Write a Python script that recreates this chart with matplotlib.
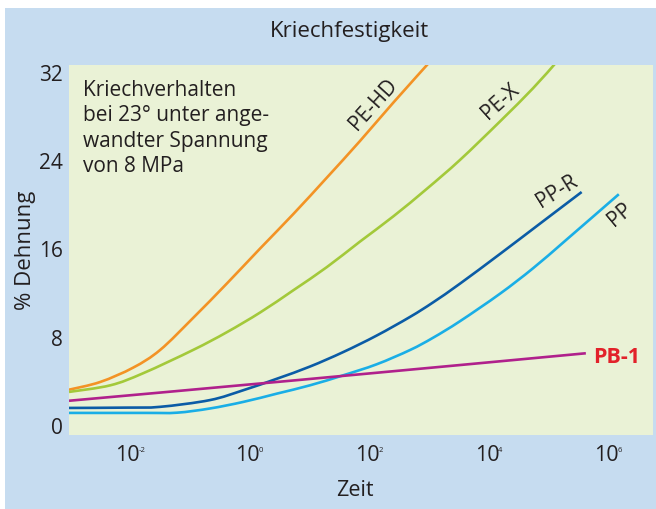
import numpy as np
import matplotlib
matplotlib.use("Agg")
from matplotlib import pyplot as plt
from matplotlib.patches import Rectangle, PathPatch
from matplotlib.path import Path
from matplotlib.ticker import NullLocator

plt.rcParams['font.family'] = ['Open Sans', 'DejaVu Sans']

# Zeit als Zehnerpotenz (Exponent), Dehnung in %
pehd_logt = [-2.97, -2.45, -1.9, -1.45, -0.9, -0.34, 0.22, 0.77, 1.33, 1.88, 2.44, 3.1]
pehd_val = [3.3, 4.0, 5.3, 6.9, 9.8, 12.9, 16.1, 19.2, 22.5, 25.8, 29.3, 33.3]

pex_logt = [-2.97, -2.28, -1.73, -0.9, -0.34, 0.22, 0.77, 1.33, 1.88, 2.44, 3.0, 3.55, 4.22, 4.77, 5.15]
pex_val = [3.1, 3.7, 4.8, 6.9, 8.5, 10.3, 12.3, 14.4, 16.7, 19.0, 21.5, 24.1, 27.6, 30.6, 32.9]

ppr_logt = [-2.97, -2.0, -1.45, -0.62, -0.06, 0.5, 1.05, 1.6, 2.16, 2.72, 3.1, 3.55, 4.22, 4.9, 5.58]
ppr_val = [1.65, 1.68, 1.75, 2.36, 3.26, 4.3, 5.4, 6.7, 8.2, 9.9, 11.2, 12.9, 15.6, 18.4, 21.2]

pp_logt = [-2.97, -1.7, -1.17, -0.62, -0.06, 0.5, 1.05, 1.6, 2.16, 2.72, 3.1, 3.55, 4.22, 4.77, 5.33, 6.2]
pp_val = [1.2, 1.2, 1.22, 1.6, 2.2, 2.95, 3.7, 4.6, 5.6, 6.9, 8.0, 9.5, 12.0, 14.3, 16.9, 21.0]

pb1_logt = [-2.97, 0.9, 5.65]
pb1_val = [2.3, 4.2, 6.6]

y_ticks = [0, 8, 16, 24, 32]
x_exps = [-2, 0, 2, 4, 6]

blue_bg = "#C6DCF0"
green_bg = "#EAF2D6"
txt = "#231F20"


def smooth_path(lt, v):
    p = np.column_stack([lt, v]).astype(float)
    pe = np.vstack([p[0], p, p[-1]])
    verts = [p[0]]
    codes = [Path.MOVETO]
    for i in range(len(p) - 1):
        p0, p1, p2, p3 = pe[i], pe[i + 1], pe[i + 2], pe[i + 3]
        verts += [p1 + (p2 - p0) / 6, p2 - (p3 - p1) / 6, p2]
        codes += [Path.CURVE4] * 3
    verts = np.array(verts)
    verts[:, 0] = 10.0 ** verts[:, 0]
    return Path(verts, codes)


fig = plt.figure(figsize=(6.56, 5.09), dpi=100)
fig.patch.set_facecolor("white")
fig.patches.append(Rectangle((5 / 656, 0), 1, 501 / 509, transform=fig.transFigure,
                             facecolor=blue_bg, edgecolor="none", zorder=-10))

ax = fig.add_axes([69 / 656, 1 - 435 / 509, 584 / 656, 370 / 509])
ax.set_facecolor(green_bg)
for s in ax.spines.values():
    s.set_visible(False)

ax.set_xscale("log")
ax.set_xlim(10 ** -2.97, 10 ** 6.77)
ax.set_ylim(-0.8, 32.7)

series = [
    (pehd_logt, pehd_val, "#F39325"),
    (pex_logt, pex_val, "#A3C93A"),
    (ppr_logt, ppr_val, "#0B5CA6"),
    (pp_logt, pp_val, "#1AAEE6"),
    (pb1_logt, pb1_val, "#B0218C"),
]
for lt, v, c in series:
    ax.add_patch(PathPatch(smooth_path(lt, v), facecolor="none", edgecolor=c,
                           lw=1.9, capstyle="butt"))

ax.set_yticks(y_ticks)
ax.set_yticklabels([str(t) for t in y_ticks])
ax.set_xticks([10.0 ** e for e in x_exps])
ax.set_xticklabels(["10"] * len(x_exps))
ax.xaxis.set_minor_locator(NullLocator())
ax.tick_params(axis="y", length=0, pad=4.3, labelsize=15, labelcolor=txt)
ax.tick_params(axis="x", length=0, pad=7.5, labelsize=15.5, labelcolor=txt)

# kleine Exponenten an den x-Beschriftungen
for e in x_exps:
    ax.annotate(str(e), xy=(10.0 ** e, 0), xycoords=("data", "axes fraction"),
                xytext=(8, -8.3), textcoords="offset points",
                fontsize=5.5, ha="left", va="top", color=txt)

ax.set_ylabel("% Dehnung", fontsize=16, color=txt)
ax.yaxis.set_label_coords((25 - 69) / 584, 0.5)
ax.yaxis.label.set_va("center")
ax.set_xlabel("Zeit", fontsize=15.5, color=txt)
ax.xaxis.set_label_coords((355 - 69) / 584, (435 - 491) / 370)
ax.xaxis.label.set_va("center")

fig.text(350 / 656, 1 - 32 / 509, "Kriechfestigkeit", ha="center", va="center",
         fontsize=16, color=txt)

ax.text((83 - 69) / 584, (435 - 80) / 370,
        "Kriechverhalten\nbei 23° unter ange-\nwandter Spannung\nvon 8 MPa",
        transform=ax.transAxes, ha="left", va="top", fontsize=15, color=txt,
        linespacing=1.27)

# Kurvenbeschriftungen
ax.text(10 ** 2.1, 29.1, "PE-HD", rotation=48, ha="center", va="center",
        rotation_mode="anchor", fontsize=15, color=txt)
ax.text(10 ** 4.22, 29.4, "PE-X", rotation=42, ha="center", va="center",
        rotation_mode="anchor", fontsize=15, color=txt)
ax.text(10 ** 5.17, 21.2, "PP-R", rotation=32, ha="center", va="center",
        rotation_mode="anchor", fontsize=15, color=txt)
ax.text(10 ** 6.22, 19.1, "PP", rotation=40, ha="center", va="center",
        rotation_mode="anchor", fontsize=15, color=txt)
ax.text(10 ** 5.77, 6.2, "PB-1", ha="left", va="center", fontsize=15.5,
        fontweight="bold", color="#E2222A")

fig.savefig("out.png", dpi=100, facecolor=fig.get_facecolor())
